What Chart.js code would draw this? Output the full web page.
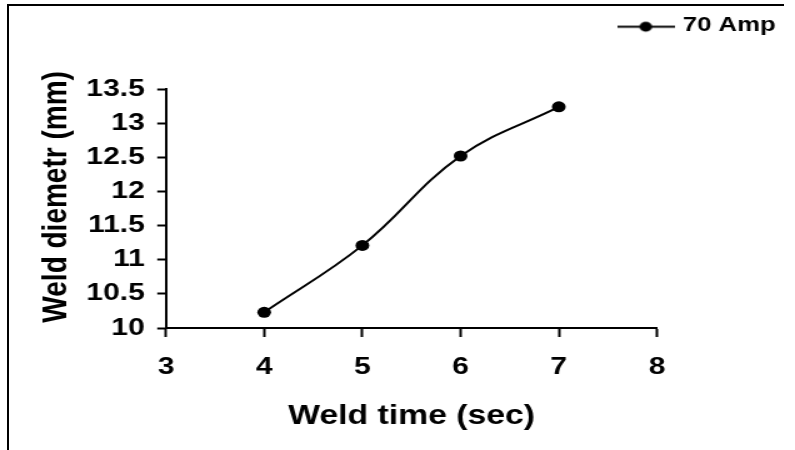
<!DOCTYPE html>
<html>
<head>
<meta charset="utf-8">
<script src="https://cdn.jsdelivr.net/npm/chart.js@4/dist/chart.umd.min.js"></script>
<style>
    body { margin: 0; background: #fff; }
    #wrap { position: relative; width: 795px; height: 450px; overflow: hidden; }
    #frame {
        position: absolute; left: 7px; top: 4px; width: 775px; height: 460px;
        border-top: 2px solid #000; border-left: 2px solid #000;
    }
    #weldChart { position: absolute; left: 0; top: 0; }
</style>
</head>
<body>
<div id="wrap">
    <div id="frame"></div>
    <!-- drawn at 636px wide and stretched to 795px, like the original picture -->
    <canvas id="weldChart" width="636" height="450" style="width: 795px; height: 450px;"></canvas>
</div>
<script>
// Data
const weldTime = [4, 5, 6, 7];
const diameter70 = [10.23, 11.21, 12.52, 13.24];
const xTickLabels = ['3', '4', '5', '6', '7', '8'];
const yTickLabels = ['10', '10.5', '11', '11.5', '12', '12.5', '13', '13.5'];

Chart.defaults.font.family = 'Arial, "Liberation Sans", sans-serif';
Chart.defaults.font.weight = 'bold';
Chart.defaults.color = '#000';

// legend swatch: short line with a dot in the middle
const swatch = document.createElement('canvas');
swatch.width = 46;
swatch.height = 16;
const sctx = swatch.getContext('2d');
sctx.strokeStyle = '#000';
sctx.lineWidth = 2;
sctx.beginPath();
sctx.moveTo(0, 9.5);
sctx.lineTo(46, 9.5);
sctx.stroke();
sctx.fillStyle = '#000';
sctx.beginPath();
sctx.arc(23, 9.5, 5, 0, Math.PI * 2);
sctx.fill();

const points = weldTime.map((t, i) => ({ x: t, y: diameter70[i] }));

const ctx = document.getElementById('weldChart').getContext('2d');
new Chart(ctx, {
    type: 'line',
    data: {
        datasets: [{
            label: '70 Amp',
            data: points,
            borderColor: '#000',
            backgroundColor: '#000',
            borderWidth: 2,
            pointRadius: 5.5,
            pointBackgroundColor: '#000',
            pointBorderWidth: 0,
            tension: 0.4
        }]
    },
    options: {
        responsive: false,
        devicePixelRatio: 1,
        animation: false,
        layout: { padding: { top: 5, right: 5.6, bottom: 0, left: 0 } },
        plugins: {
            legend: {
                position: 'top',
                align: 'end',
                weight: 3000,
                labels: {
                    usePointStyle: true,
                    pointStyleWidth: 39,
                    padding: 10,
                    font: { size: 20.5, weight: 'bold' },
                    generateLabels: (chart) => [{
                        text: '70 Amp',
                        pointStyle: swatch,
                        fillStyle: '#000',
                        strokeStyle: '#000',
                        lineWidth: 0,
                        datasetIndex: 0
                    }]
                }
            },
            // empty title used as gap between legend and plot
            title: {
                display: true,
                text: '',
                padding: { top: 42.4, bottom: 0 },
                font: { size: 1 }
            },
            tooltip: { enabled: false }
        },
        scales: {
            x: {
                type: 'linear',
                min: 3,
                max: 8,
                ticks: {
                    stepSize: 1,
                    padding: 16,
                    font: { size: 24, weight: 'bold' },
                    callback: (v, i) => xTickLabels[i]
                },
                grid: { drawOnChartArea: false, tickLength: 9, tickColor: '#000', tickWidth: 2 },
                border: { color: '#000', width: 2 },
                title: {
                    display: true,
                    text: 'Weld time (sec)',
                    font: { size: 27, weight: 'bold' },
                    padding: { top: 0, bottom: 17 }
                },
                afterFit: (s) => { s.height = 122; }
            },
            y: {
                min: 10,
                max: 13.5,
                ticks: {
                    stepSize: 0.5,
                    padding: 10,
                    font: { size: 24, weight: 'bold' },
                    callback: (v, i) => yTickLabels[i]
                },
                grid: { drawOnChartArea: false, tickLength: 7, tickColor: '#000', tickWidth: 2 },
                border: { color: '#000', width: 2 },
                title: {
                    display: true,
                    // leading spaces nudge the centred title up a little
                    text: '   Weld diemetr (mm)',
                    font: { size: 28, weight: 'bold' },
                    padding: { top: 28, bottom: 0 }
                },
                afterFit: (s) => { s.width = 132.8; }
            },
            // blank spacer on the right so the plot stops at x = 8
            pad: {
                type: 'linear',
                position: 'right',
                grid: { display: false },
                border: { display: false },
                ticks: { display: false },
                afterFit: (s) => { s.width = 104.8; }
            }
        }
    }
});
</script>
</body>
</html>
